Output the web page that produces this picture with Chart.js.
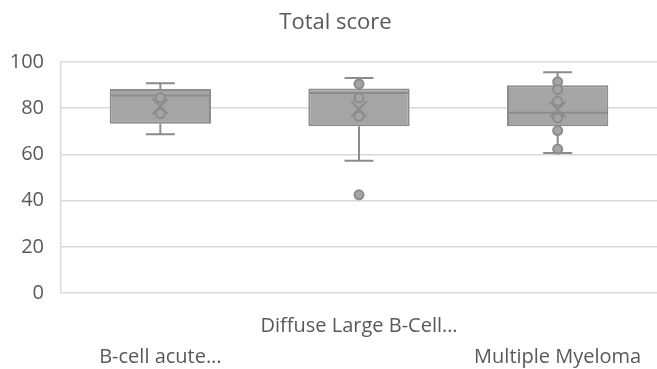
<!DOCTYPE html>
<html>
<head>
<meta charset="utf-8">
<script src="https://cdn.jsdelivr.net/npm/chart.js@4"></script>
<style>
  html, body { margin: 0; padding: 0; background: #ffffff; }
  #wrap { width: 657px; height: 369px; position: relative; }
</style>
</head>
<body>
<div id="wrap"><canvas id="c" width="657" height="369"></canvas></div>
<script>
// ---- data ----
const categories = ['B-cell acute…', 'Diffuse Large B-Cell…', 'Multiple Myeloma'];
const mins    = [68.7, 57.3, 60.6];
const q1      = [73.3, 72.2, 72.2];
const medians = [85.5, 86.6, 78.0];
const q3      = [88.3, 88.5, 89.9];
const maxs    = [90.8, 93.1, 95.6];
const means   = [80.8, 79.7, 79.4];
const innerPoints = [
  [77.7, 84.5],
  [90.5, 84.5, 76.5],
  [91.4, 88.1, 83.0, 75.8, 70.3, 62.3]
];
const outliers = [
  [],
  [42.5],
  []
];
const yTicks = [0, 20, 40, 60, 80, 100];
const chartTitle = 'Total score';

// ---- styling ----
const FONT = "'Open Sans', Lato, sans-serif";
const TEXT = '#595959';
const FILL = '#a5a5a5';
const EDGE = '#8c8c8c';
const GRID = '#d9d9d9';

const pointData = [];
innerPoints.forEach((arr, i) => arr.forEach(v => pointData.push({ x: categories[i], y: v })));
const outlierData = [];
outliers.forEach((arr, i) => arr.forEach(v => outlierData.push({ x: categories[i], y: v })));
const meanData = means.map((v, i) => ({ x: categories[i], y: v }));

const whiskerPlugin = {
  id: 'whiskers',
  afterDatasetDraw(chart, args) {
    if (args.index !== 0) return;
    const ctx = chart.ctx;
    const ys = chart.scales.y;
    const meta = chart.getDatasetMeta(0);
    ctx.save();
    ctx.strokeStyle = EDGE;
    ctx.lineWidth = 2;
    meta.data.forEach((bar, i) => {
      const x = bar.x;
      const half = bar.width / 2;
      const cap = 14.5;
      const yMin = ys.getPixelForValue(mins[i]);
      const yMax = ys.getPixelForValue(maxs[i]);
      const yQ1 = ys.getPixelForValue(q1[i]);
      const yQ3 = ys.getPixelForValue(q3[i]);
      const yMed = ys.getPixelForValue(medians[i]);
      ctx.beginPath();
      ctx.moveTo(x, yQ3); ctx.lineTo(x, yMax);
      ctx.moveTo(x - cap, yMax); ctx.lineTo(x + cap, yMax);
      ctx.moveTo(x, yQ1); ctx.lineTo(x, yMin);
      ctx.moveTo(x - cap, yMin); ctx.lineTo(x + cap, yMin);
      ctx.moveTo(x - half + 1, yMed); ctx.lineTo(x + half - 1, yMed);
      ctx.stroke();
    });
    ctx.restore();
  }
};

const titlePlugin = {
  id: 'areaTitle',
  afterDraw(chart) {
    const ctx = chart.ctx;
    ctx.save();
    ctx.fillStyle = TEXT;
    ctx.font = "22px " + FONT;
    ctx.textAlign = 'center';
    ctx.textBaseline = 'middle';
    ctx.fillText(chartTitle, chart.width / 2 + 7, 23);
    ctx.restore();
  }
};

new Chart(document.getElementById('c'), {
  type: 'bar',
  data: {
    labels: categories,
    datasets: [
      {
        label: 'box',
        data: q1.map((v, i) => [v, q3[i]]),
        backgroundColor: FILL,
        borderColor: EDGE,
        borderWidth: 2,
        borderSkipped: false,
        barPercentage: 0.51,
        categoryPercentage: 1,
        order: 5
      },
      {
        type: 'line',
        label: 'points',
        data: pointData,
        showLine: false,
        pointStyle: 'circle',
        pointRadius: 4.5,
        pointBackgroundColor: FILL,
        pointBorderColor: EDGE,
        pointBorderWidth: 2,
        order: 2
      },
      {
        type: 'line',
        label: 'outliers',
        data: outlierData,
        showLine: false,
        pointStyle: 'circle',
        pointRadius: 4.5,
        pointBackgroundColor: FILL,
        pointBorderColor: EDGE,
        pointBorderWidth: 2,
        order: 2
      },
      {
        type: 'line',
        label: 'mean',
        data: meanData,
        showLine: false,
        pointStyle: 'crossRot',
        pointRadius: 11,
        pointBorderColor: EDGE,
        pointBorderWidth: 2,
        order: 1
      }
    ]
  },
  options: {
    responsive: false,
    animation: false,
    devicePixelRatio: 1,
    layout: { autoPadding: false, padding: { top: 62, right: 0, bottom: 0, left: 0 } },
    plugins: {
      legend: { display: false },
      tooltip: { enabled: false },
      title: { display: false }
    },
    scales: {
      x: {
        type: 'category',
        grid: { display: false, drawTicks: false },
        border: { display: false },
        afterFit(s) { s.height = 76; s.paddingLeft = 0; s.paddingRight = 0; },
        ticks: {
          color: TEXT,
          font: { family: FONT, size: 20, lineHeight: 1.55 },
          maxRotation: 0,
          autoSkip: false,
          padding: 18,
          callback(value, index) {
            const lab = categories[index];
            return index % 2 === 1 ? [lab, ''] : ['', lab];
          }
        }
      },
      y: {
        min: 0,
        max: 100,
        afterFit(s) { s.width = 61; },
        afterBuildTicks(s) { s.ticks = yTicks.map(v => ({ value: v })); },
        grid: { color: GRID, lineWidth: 1.5, drawTicks: false },
        border: { display: true, color: GRID, width: 1.5 },
        ticks: {
          color: TEXT,
          font: { family: FONT, size: 20 },
          padding: 17
        }
      }
    }
  },
  plugins: [whiskerPlugin, titlePlugin]
});
</script>
</body>
</html>
